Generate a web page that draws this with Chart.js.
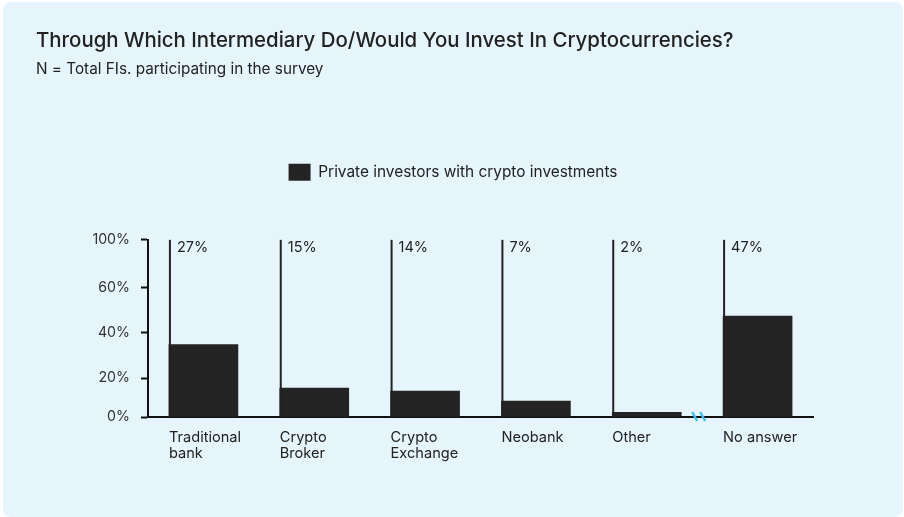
<!DOCTYPE html>
<html>
<head>
<meta charset="utf-8">
<script src="https://cdn.jsdelivr.net/npm/chart.js@4"></script>
<style>
  body { margin: 0; background: #fff; }
  #card { position: absolute; left: 3px; top: 2px; width: 900px; height: 515px; border-radius: 8px; background: #e6f5fb; overflow: hidden; }
  canvas { display: block; }
</style>
</head>
<body>
<div id="card"><canvas id="chart" width="900" height="515"></canvas></div>
<script>
// data
const categories = [['Traditional', 'bank'], ['Crypto', 'Broker'], ['Crypto', 'Exchange'], 'Neobank', 'Other', 'No answer'];
const barValues = [33.5, 13.4, 12.0, 7.4, 2.2, 46.7];
const shareLabels = ['27%', '15%', '14%', '7%', '2%', '47%'];
const yTickValues = [0, 18, 39, 60, 82];
const yTickLabels = ['0%', '20%', '40%', '60%', '100%'];
const seriesName = 'Private investors with crypto investments';

const ink = '#222222';
Chart.defaults.font.family = 'Inter, "Noto Sans", sans-serif';
Chart.defaults.color = ink;

// vertical rules at each bar's left edge, share labels and the axis break mark
const decorations = {
  id: 'decorations',
  afterDatasetsDraw(chart) {
    const { ctx, chartArea } = chart;
    const bars = chart.getDatasetMeta(0).data;
    const base = chart.scales.y.getPixelForValue(0);
    ctx.save();
    bars.forEach((bar, i) => {
      const left = bar.x - bar.width / 2;
      ctx.strokeStyle = ink;
      ctx.lineWidth = 2;
      ctx.beginPath();
      ctx.moveTo(left + 1, chartArea.top);
      ctx.lineTo(left + 1, base);
      ctx.stroke();
      ctx.fillStyle = ink;
      ctx.font = '14.5px Inter, "Noto Sans", sans-serif';
      ctx.textBaseline = 'middle';
      ctx.textAlign = 'left';
      ctx.fillText(shareLabels[i], left + 8, chartArea.top + 8);
    });
    // break between "Other" and "No answer"
    const a = bars[4], b = bars[5];
    const mid = ((a.x + a.width / 2) + (b.x - b.width / 2)) / 2 - 3;
    ctx.strokeStyle = '#45bfeb';
    ctx.lineWidth = 2.5;
    [-4, 4].forEach(dx => {
      ctx.beginPath();
      ctx.moveTo(mid + dx - 3, base - 5);
      ctx.lineTo(mid + dx + 2, base + 4);
      ctx.stroke();
    });
    ctx.restore();
  }
};

new Chart(document.getElementById('chart'), {
  type: 'bar',
  data: {
    labels: categories,
    datasets: [{
      label: seriesName,
      data: barValues,
      backgroundColor: '#242424',
      borderWidth: 0,
      barThickness: 69,
    }]
  },
  options: {
    responsive: false,
    animation: false,
    layout: { padding: { left: 33, right: 33, top: 0, bottom: 0 } },
    plugins: {
      title: {
        display: true,
        text: 'Through Which Intermediary Do/Would You Invest In Cryptocurrencies?',
        align: 'start',
        color: ink,
        font: { size: 20.4, weight: '500' },
        padding: { top: 27, bottom: 0 },
      },
      subtitle: {
        display: true,
        text: 'N = Total FIs. participating in the survey',
        align: 'start',
        color: ink,
        font: { size: 15.3, weight: 'normal' },
        padding: { top: 7, bottom: 75 },
      },
      legend: {
        display: true,
        labels: { boxWidth: 22, boxHeight: 17, padding: 10, color: ink, font: { size: 15.4 } },
      },
      tooltip: { enabled: false },
    },
    scales: {
      x: {
        grid: { display: false },
        border: { display: true, color: '#111', width: 2 },
        ticks: { align: 'start', labelOffset: -34.5, padding: 5, autoSkip: false, maxRotation: 0, color: ink, font: { size: 14.6, lineHeight: 1.1 } },
        afterFit(scale) { scale.height = 100; },
      },
      xTop: {
        type: 'linear', axis: 'x', position: 'top', display: true,
        grid: { display: false }, border: { display: false }, ticks: { display: false },
        afterFit(scale) { scale.height = 49; },
      },
      y: {
        min: 0,
        max: 82,
        grid: { display: true, drawOnChartArea: false, drawTicks: true, tickLength: 7, tickWidth: 2, tickColor: '#111' },
        border: { display: true, color: '#111', width: 2 },
        afterBuildTicks(scale) { scale.ticks = yTickValues.map(v => ({ value: v })); },
        ticks: { padding: 11, color: '#333', font: { size: 14.2 }, callback: v => yTickLabels[yTickValues.indexOf(v)] },
        afterFit(scale) { scale.width = 112; },
      },
      yRight: {
        type: 'linear', axis: 'y', position: 'right', display: true,
        grid: { display: false }, border: { display: false }, ticks: { display: false },
        afterFit(scale) { scale.width = 57; },
      },
    },
  },
  plugins: [decorations],
});
</script>
</body>
</html>
